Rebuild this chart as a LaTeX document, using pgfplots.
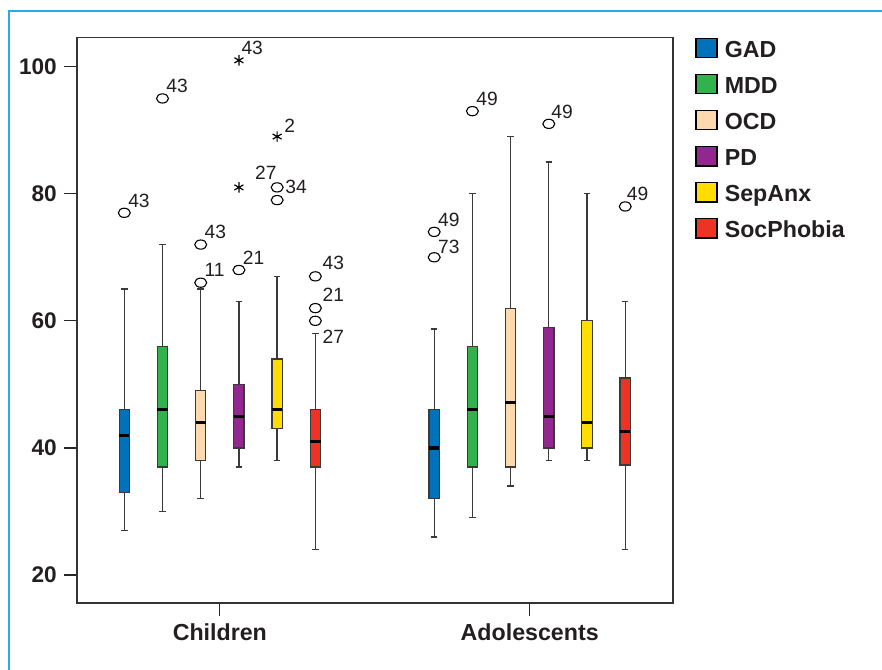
\documentclass[border=0pt]{standalone}
\usepackage{fontspec}
\setmainfont{Liberation Sans}
\usepackage{pgfplots}
\usepackage{pgfplotstable}
\pgfplotsset{compat=1.18}
\usepgfplotslibrary{statistics}
\definecolor{cGAD}{RGB}{0,114,188}
\definecolor{cMDD}{RGB}{50,178,76}
\definecolor{cOCD}{RGB}{253,217,176}
\definecolor{cPD}{RGB}{146,39,143}
\definecolor{cSep}{RGB}{255,221,0}
\definecolor{cSoc}{RGB}{238,50,36}
\definecolor{boxedge}{RGB}{58,58,58}
\definecolor{frameblue}{RGB}{41,171,226}
\definecolor{txt}{RGB}{35,31,32}

\pgfplotstableread{
x y lab dx dy
1 77 43 1.7 2.9
2 95 43 1.7 2.9
3 72 43 1.7 2.9
3 66 11 1.7 2.9
4 68 21 1.7 2.9
5 81 34 3.85 -2.85
6 67 43 3.35 3.35
6 62 21 3.35 3.35
6 60 27 3.35 -11.35
9.11 74 49 1.7 2.9
9.11 70 73 1.7 2.0
10.11 93 49 1.7 2.9
12.11 91 49 1.0 2.9
14.11 78 49 0.6 2.9
}\circdata

\pgfplotstableread{
x y lab dx dy
4 101 43 1.0 3.0
4 81 27 7.85 3.85
5 89 2 3.3 2.0
}\stardata

\begin{document}
\begin{tikzpicture}
\useasboundingbox (0,0) rectangle (441pt,334.5pt);
\draw[frameblue, line width=0.75pt] (4.5pt,-2pt) -- (4.5pt,329pt) -- (443pt,329pt);
\begin{axis}[
  at={(38.5pt,33pt)}, anchor=south west,
  scale only axis, width=298pt, height=282.65pt,
  xmin=-0.238, xmax=15.36, ymin=15.59, ymax=104.56,
  xtick={3.5,11.61}, xticklabels={Children,Adolescents},
  ytick={20,40,60,80,100},
  tick align=outside, tick pos=left,
  major tick length=6.6pt,
  axis line style={draw=black!80, line width=0.6pt},
  tick style={black!85, line width=0.6pt},
  /pgf/number format/assume math mode=true,
  yticklabel style={font=\bfseries\fontsize{11.3}{13}\selectfont, text=txt},
  xticklabel style={font=\bfseries\fontsize{11.6}{13}\selectfont, text=txt},
  boxplot/draw direction=y,
  boxplot/box extend=0.27,
  boxplot/whisker extend=0.17,
  boxplot/every median/.style={line width=1.6pt, black},
  boxplot/every box/.style={draw=boxedge, line width=0.6pt},
  boxplot/every whisker/.style={draw=boxedge, line width=0.65pt},
  legend image code/.code={\draw[#1, line width=0.75pt] (0pt,-4.1pt) rectangle (10.35pt,5.5pt);},
  legend style={at={(1,1)}, anchor=north west, xshift=11.15pt, draw=none, fill=none,
    inner sep=0pt, outer sep=0pt, row sep=7.67pt, column sep=3.65pt,
    font=\bfseries\fontsize{11.6}{14}\selectfont, text=txt,
    nodes={inner sep=0pt, text height=8.3pt, text depth=0pt}},
  legend cell align=left,
]
\addlegendimage{fill=cGAD, draw=black}\addlegendentry{GAD}
\addlegendimage{fill=cMDD, draw=black}\addlegendentry{MDD}
\addlegendimage{fill=cOCD, draw=black}\addlegendentry{OCD}
\addlegendimage{fill=cPD, draw=black}\addlegendentry{PD}
\addlegendimage{fill=cSep, draw=black}\addlegendentry{SepAnx}
\addlegendimage{fill=cSoc, draw=black}\addlegendentry{SocPhobia}

% Children
\addplot[forget plot, draw=boxedge, fill=cGAD, boxplot prepared={draw position=1, lower whisker=27, lower quartile=33, median=42, upper quartile=46, upper whisker=65}] coordinates {};
\addplot[forget plot, draw=boxedge, fill=cMDD, boxplot prepared={draw position=2, lower whisker=30, lower quartile=37, median=46, upper quartile=56, upper whisker=72}] coordinates {};
\addplot[forget plot, draw=boxedge, fill=cOCD, boxplot prepared={draw position=3, lower whisker=32, lower quartile=38, median=44, upper quartile=49, upper whisker=65}] coordinates {};
\addplot[forget plot, draw=boxedge, fill=cPD, boxplot prepared={draw position=4, lower whisker=37, lower quartile=40, median=45, upper quartile=50, upper whisker=63}] coordinates {};
\addplot[forget plot, draw=boxedge, fill=cSep, boxplot prepared={draw position=5, lower whisker=38, lower quartile=43, median=46, upper quartile=54, upper whisker=67}] coordinates {};
\addplot[forget plot, draw=boxedge, fill=cSoc, boxplot prepared={draw position=6, lower whisker=24, lower quartile=37, median=41, upper quartile=46, upper whisker=58}] coordinates {};
% Adolescents
\addplot[forget plot, draw=boxedge, fill=cGAD, boxplot prepared={draw position=9.11, lower whisker=26, lower quartile=32, median=40, upper quartile=46, upper whisker=58.7}] coordinates {};
\addplot[forget plot, draw=boxedge, fill=cMDD, boxplot prepared={draw position=10.11, lower whisker=29, lower quartile=37, median=46, upper quartile=56, upper whisker=80}] coordinates {};
\addplot[forget plot, draw=boxedge, fill=cOCD, boxplot prepared={draw position=11.11, lower whisker=34, lower quartile=37, median=47.2, upper quartile=62, upper whisker=89}] coordinates {};
\addplot[forget plot, draw=boxedge, fill=cPD, boxplot prepared={draw position=12.11, lower whisker=38, lower quartile=40, median=45, upper quartile=59, upper whisker=85}] coordinates {};
\addplot[forget plot, draw=boxedge, fill=cSep, boxplot prepared={draw position=13.11, lower whisker=38, lower quartile=40, median=44, upper quartile=60, upper whisker=80}] coordinates {};
\addplot[forget plot, draw=boxedge, fill=cSoc, boxplot prepared={draw position=14.11, lower whisker=24, lower quartile=37.3, median=42.6, upper quartile=51, upper whisker=63}] coordinates {};

% outliers (circles) with case labels
\addplot[forget plot, only marks, mark=*, mark size=2.3pt,
  mark options={draw=black, fill=white, line width=0.55pt, xscale=1.3},
  point meta=explicit symbolic, nodes near coords,
  visualization depends on={\thisrow{dx}\as\dx},
  visualization depends on={\thisrow{dy}\as\dy},
  every node near coord/.append style={anchor=base west, inner sep=0pt, xshift=\dx pt, yshift=\dy pt,
    font=\fontsize{9.6}{11}\selectfont, text=txt}]
  table[x=x, y=y, meta=lab] {\circdata};
% unlabeled outlier
\addplot[forget plot, only marks, mark=*, mark size=2.3pt,
  mark options={draw=black, fill=white, line width=0.55pt, xscale=1.3}]
  coordinates {(5,79)};
% extremes (stars)
\addplot[forget plot, only marks, mark=asterisk, mark size=2.6pt,
  mark options={draw=black, line width=0.6pt},
  point meta=explicit symbolic, nodes near coords,
  visualization depends on={\thisrow{dx}\as\dx},
  visualization depends on={\thisrow{dy}\as\dy},
  every node near coord/.append style={anchor=base west, inner sep=0pt, xshift=\dx pt, yshift=\dy pt,
    font=\fontsize{9.6}{11}\selectfont, text=txt}]
  table[x=x, y=y, meta=lab] {\stardata};
\end{axis}
\end{tikzpicture}
\end{document}
